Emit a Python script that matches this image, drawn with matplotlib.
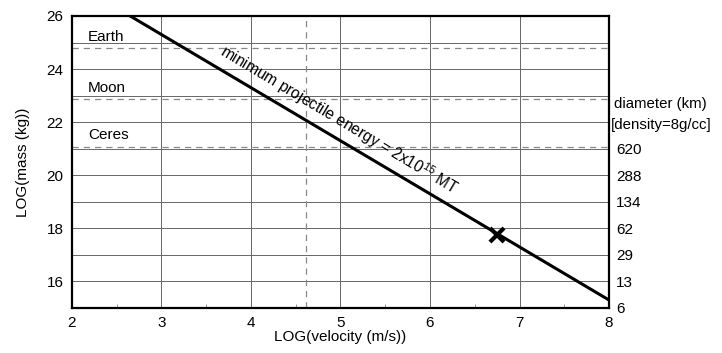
import matplotlib.pyplot as plt
from matplotlib.ticker import MultipleLocator

plt.rcParams['font.family'] = ['Liberation Sans', 'DejaVu Sans']
plt.rcParams['mathtext.fontset'] = 'custom'
plt.rcParams['mathtext.rm'] = 'Liberation Sans'
plt.rcParams['mathtext.it'] = 'Liberation Sans:italic'

# Data
line_logv = [2.5, 8.0]
line_logm = [26.3, 15.3]
marker_logv = [6.75]
marker_logm = [17.75]

bodies = ['Earth', 'Moon', 'Ceres']
body_logm = [24.78, 22.87, 21.07]
body_label_y = [25.2, 23.3, 21.5]

escape_logv = 4.62

diam_ticks = [15, 16, 17, 18, 19, 20, 21]
diam_labels = ['6', '13', '29', '62', '134', '288', '620']

fig = plt.figure(figsize=(7.22, 3.53), dpi=100)
ax = fig.add_axes([0.0997, 0.1275, 0.7438, 0.8272])

ax.set_xlim(2, 8)
ax.set_ylim(15, 26)
ax.xaxis.set_major_locator(MultipleLocator(1))
ax.xaxis.set_minor_locator(MultipleLocator(0.5))
ax.yaxis.set_major_locator(MultipleLocator(2))
ax.yaxis.set_minor_locator(MultipleLocator(1))

ax.grid(True, which='major', axis='x', color='#666666', lw=0.7)
ax.grid(True, which='both', axis='y', color='#666666', lw=0.7)
ax.tick_params(which='major', length=0, labelsize=11, pad=6)
ax.tick_params(which='minor', axis='x', direction='in', length=3, color='#888888')
ax.tick_params(which='minor', axis='y', length=0)

for s in ax.spines.values():
    s.set_linewidth(1.6)
    s.set_color('black')

for m in body_logm:
    ax.axhline(m, color='#888888', lw=0.9, ls=(0, (5, 4)))
ax.axvline(escape_logv, color='#888888', lw=0.9, ls=(0, (5, 4)))

for name, y in zip(bodies, body_label_y):
    ax.text(2.18, y, name, fontsize=11, va='center', ha='left')

ax.plot(line_logv, line_logm, color='black', lw=2.2, solid_capstyle='butt')
ax.plot(marker_logv, marker_logm, 'x', color='black', ms=10, mew=3)

ax.text(4.98, 22.1, 'minimum projectile energy = 2x10$^{15}$ MT',
        rotation=-30.8, rotation_mode='anchor', fontsize=11.2,
        ha='center', va='center')

ax.set_xlabel('LOG(velocity (m/s))', fontsize=11, labelpad=0)
ax.set_ylabel('LOG(mass (kg))', fontsize=11, labelpad=12)

ax2 = ax.twinx()
ax2.set_ylim(15, 26)
ax2.set_yticks(diam_ticks)
ax2.set_yticklabels(diam_labels)
ax2.tick_params(length=0, labelsize=11, pad=5)
for s in ax2.spines.values():
    s.set_visible(False)
ax2.text(1.01, 22.7, 'diameter (km)', transform=ax2.get_yaxis_transform(),
         fontsize=10.8, va='center', ha='left')
ax2.text(1.004, 21.9, '[density=8g/cc]', transform=ax2.get_yaxis_transform(),
         fontsize=10.8, va='center', ha='left')

fig.savefig('out.png', dpi=100)
